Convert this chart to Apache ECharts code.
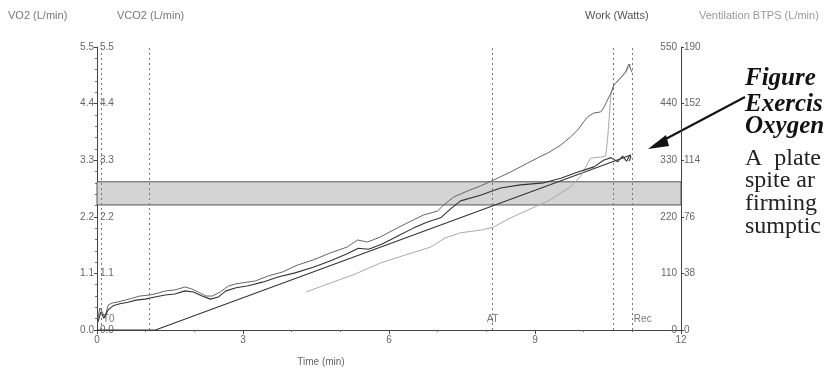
<!DOCTYPE html>
<html><head><meta charset="utf-8">
<script src="https://cdn.jsdelivr.net/npm/echarts@6/dist/echarts.min.js"></script>
<style>html,body{margin:0;padding:0;background:#fff}#c{width:832px;height:373px}</style>
</head><body><div id="c"></div>
<script>
// ---- data (time in minutes) ----
const vo2Time   = [0.02,0.08,0.14,0.23,0.33,0.47,0.64,0.80,0.99,1.19,1.40,1.60,1.81,1.98,2.16,2.33,2.49,2.65,2.86,3.11,3.40,3.72,4.07,4.44,4.79,5.14,5.37,5.58,5.86,6.19,6.50,6.79,7.06,7.26,7.47,7.88,8.29,8.70,9.18,9.53,9.88,10.21,10.41,10.56,10.70,10.80,10.88,10.95,10.97,10.93];
const vo2Values = [0.16,0.35,0.23,0.39,0.47,0.51,0.54,0.58,0.60,0.64,0.68,0.70,0.76,0.74,0.66,0.60,0.64,0.76,0.82,0.86,0.93,1.03,1.11,1.22,1.34,1.48,1.59,1.57,1.67,1.83,1.98,2.10,2.18,2.35,2.51,2.62,2.76,2.82,2.86,2.95,3.07,3.17,3.30,3.35,3.27,3.38,3.28,3.40,3.36,3.28];
const ventTime   = [0.02,0.06,0.12,0.16,0.23,0.31,0.43,0.58,0.74,0.88,1.09,1.26,1.40,1.60,1.81,1.95,2.12,2.24,2.37,2.53,2.70,2.84,2.98,3.25,3.52,3.81,4.12,4.44,4.79,5.14,5.35,5.56,5.82,6.17,6.50,6.71,7.00,7.12,7.33,7.61,7.88,8.15,8.50,8.85,9.05,9.26,9.53,9.73,9.88,10.00,10.08,10.21,10.35,10.41,10.56,10.62,10.76,10.86,10.93,10.97,10.99];
const ventValues = [8.1,14.8,11.4,8.1,16.8,18.1,18.8,20.1,21.5,22.8,23.5,24.8,26.2,26.9,28.9,27.5,24.8,22.8,22.8,25.5,29.5,30.9,31.6,32.9,36.3,38.9,43.6,47.0,51.7,55.7,60.4,59.1,62.4,68.5,73.9,77.2,79.9,83.9,89.3,93.3,96.7,100.7,106.1,112.1,115.5,118.8,124.2,129.6,134.3,139.7,143.0,145.7,146.4,149.1,159.1,164.5,169.2,173.2,178.6,179.9,173.0];
const vco2Time   = [4.30,4.79,5.31,5.82,6.34,6.85,7.16,7.47,7.88,8.15,8.50,8.85,9.32,9.73,9.94,10.14,10.35,10.45,10.49,10.56,10.62,10.76,10.86,10.97];
const vco2Values = [0.74,0.91,1.09,1.30,1.46,1.61,1.79,1.89,1.94,2.00,2.18,2.33,2.53,2.78,2.99,3.34,3.36,3.38,3.69,4.57,4.76,4.90,5.00,5.17];
const workTime   = [0, 1.2, 10.97];
const workValues = [0, 0, 340];
const markerTimes  = [0.08, 1.07, 8.13, 10.6, 10.99];
const markerLabels = ['T0', '', 'AT', '', 'Rec'];
const bandLow = 2.43, bandHigh = 2.88;
const xTicks = [0, 3, 6, 9, 12];
const leftTicks = ['0.0','1.1','2.2','3.3','4.4','5.5'];
const workTicks = [0,110,220,330,440,550];
const ventTicks = [0,38,76,114,152,190];

const zip = (a, b) => a.map((t, i) => [t, b[i]]);
const lab = {color:'#666', fontSize:10, fontFamily:'Liberation Sans'};
const chart = echarts.init(document.getElementById('c'), null, {renderer:'canvas'});
const markerPos = ['right', 'right', 'inside', 'right', 'right'];
const option = {
  animation:false,
  backgroundColor:'#fff',
  grid:{left:97, right:151, top:47, bottom:43},
  xAxis:{type:'value', min:xTicks[0], max:xTicks[xTicks.length-1], interval:3,
    axisLine:{lineStyle:{color:'#444', width:1}}, axisTick:{length:4, lineStyle:{color:'#444'}},
    minorTick:{show:true, splitNumber:3, length:2, lineStyle:{color:'#666'}},
    splitLine:{show:false}, axisLabel:Object.assign({margin:5}, lab),
    name:'Time (min)', nameLocation:'middle', nameGap:27,
    nameTextStyle:Object.assign({}, lab, {padding:[0,136,0,0]})},
  yAxis:[
    {type:'value', min:0, max:5.5, interval:1.1, position:'left',
      axisLine:{show:true, lineStyle:{color:'#444'}}, axisTick:{show:true, length:3, lineStyle:{color:'#444'}},
      minorTick:{show:true, splitNumber:5, length:2, lineStyle:{color:'#777'}},
      splitLine:{show:false}, axisLabel:Object.assign({margin:3, formatter:(v,i)=>leftTicks[i]}, lab)},
    {type:'value', min:0, max:5.5, interval:1.1, position:'left',
      axisLine:{show:false}, axisTick:{show:false}, splitLine:{show:false},
      axisLabel:Object.assign({inside:true, margin:3, formatter:(v,i)=>leftTicks[i]}, lab)},
    {type:'value', min:0, max:550, interval:110, position:'right',
      axisLine:{show:true, lineStyle:{color:'#444'}}, axisTick:{show:true, length:3, lineStyle:{color:'#444'}},
      splitLine:{show:false}, axisLabel:Object.assign({inside:true, margin:4, formatter:(v,i)=>String(workTicks[i])}, lab)},
    {type:'value', min:0, max:190, interval:38, position:'right',
      axisLine:{show:false}, axisTick:{show:false}, splitLine:{show:false},
      axisLabel:Object.assign({margin:3, formatter:(v,i)=>String(ventTicks[i])}, lab)}
  ],
  series:[
    {name:'band', type:'line', yAxisIndex:0, data:[], silent:true,
      markArea:{silent:true, itemStyle:{color:'#d4d4d4', borderColor:'#555', borderWidth:1},
        data:[[{xAxis:xTicks[0], yAxis:bandLow},{xAxis:xTicks[xTicks.length-1], yAxis:bandHigh}]]},
      markLine:{silent:true, symbol:'none', label:{show:false},
        lineStyle:{color:'#777', type:[2,3], width:1},
        data:markerTimes.map(t=>({xAxis:t}))}},
    {name:'markers', type:'scatter', yAxisIndex:0, symbolSize:0, silent:true,
      data:markerTimes.map((t,i)=>({value:[t,0.2], name:markerLabels[i],
        label:{position:markerPos[i], distance:2}})),
      label:{show:true, formatter:p=>p.name, color:'#555', fontSize:10, fontFamily:'Liberation Sans'}},
    {name:'Work (Watts)', type:'line', yAxisIndex:2, data:zip(workTime, workValues), showSymbol:false,
      lineStyle:{color:'#333', width:1.1}},
    {name:'VCO2 (L/min)', type:'line', yAxisIndex:1, data:zip(vco2Time, vco2Values), showSymbol:false,
      lineStyle:{color:'#aaa', width:1}},
    {name:'Ventilation BTPS (L/min)', type:'line', yAxisIndex:3, data:zip(ventTime, ventValues), showSymbol:false,
      lineStyle:{color:'#666', width:1}},
    {name:'VO2 (L/min)', type:'line', yAxisIndex:0, data:zip(vo2Time, vo2Values), showSymbol:false,
      lineStyle:{color:'#333', width:1.1}}
  ],
  graphic:[
    {type:'text', left:8, top:10, style:{text:'VO2 (L/min)', fill:'#777', font:'11px "Liberation Sans"'}},
    {type:'text', left:117, top:10, style:{text:'VCO2 (L/min)', fill:'#777', font:'11px "Liberation Sans"'}},
    {type:'text', left:585, top:10, style:{text:'Work (Watts)', fill:'#555', font:'11px "Liberation Sans"'}},
    {type:'text', left:699, top:10, style:{text:'Ventilation BTPS (L/min)', fill:'#999', font:'11px "Liberation Sans"'}},
    {type:'line', shape:{x1:745, y1:97, x2:660, y2:142}, style:{stroke:'#111', lineWidth:2}},
    {type:'polygon', shape:{points:[[648,149],[666,135],[669,146]]}, style:{fill:'#111'}},
    {type:'text', left:745, top:66, style:{text:'Figure', fill:'#111', font:'italic bold 25px "Liberation Serif"'}},
    {type:'text', left:745, top:92, style:{text:'Exercis', fill:'#111', font:'italic bold 25px "Liberation Serif"'}},
    {type:'text', left:745, top:114, style:{text:'Oxygen', fill:'#111', font:'italic bold 25px "Liberation Serif"'}},
    {type:'text', left:745, top:147, style:{text:'A  plate', fill:'#222', font:'24px "Liberation Serif"'}},
    {type:'text', left:745, top:169, style:{text:'spite ar', fill:'#222', font:'24px "Liberation Serif"'}},
    {type:'text', left:745, top:192, style:{text:'firming', fill:'#222', font:'24px "Liberation Serif"'}},
    {type:'text', left:745, top:215, style:{text:'sumptic', fill:'#222', font:'24px "Liberation Serif"'}}
  ]
};
chart.setOption(option);
</script></body></html>
